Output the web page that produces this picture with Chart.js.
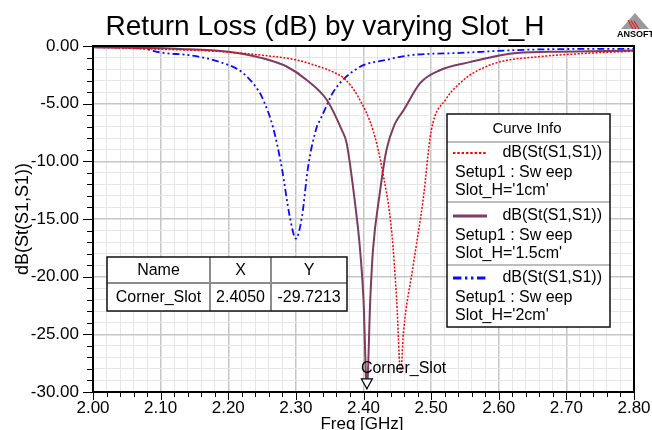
<!DOCTYPE html>
<html>
<head>
<meta charset="utf-8">
<script src="https://cdn.jsdelivr.net/npm/chart.js@4.4.1/dist/chart.umd.min.js"></script>
<style>
  html, body { margin: 0; padding: 0; background: #fff; }
  #wrap { width: 652px; height: 430px; }
</style>
</head>
<body>
<div id="wrap"><canvas id="rl"></canvas></div>
<script>
// Slot_H = 1cm (red, dotted)
const freq1 = [2.00, 2.08, 2.18, 2.25, 2.30, 2.335, 2.355, 2.373, 2.392, 2.414, 2.427, 2.442, 2.449, 2.455, 2.459, 2.473, 2.488, 2.50, 2.522, 2.545, 2.562, 2.60, 2.655, 2.74, 2.80];
const db1 = [-0.1, -0.25, -0.45, -0.8, -1.2, -1.8, -2.25, -2.9, -4.4, -7.3, -10.5, -16.3, -22.0, -28.4, -24.9, -19.2, -13.4, -7.4, -4.6, -3.1, -2.35, -1.4, -0.95, -0.6, -0.45];

// Slot_H = 1.5cm (purple, solid)
const freq2 = [2.00, 2.13, 2.20, 2.25, 2.287, 2.316, 2.346, 2.368, 2.375, 2.387, 2.395, 2.40, 2.405, 2.41, 2.414, 2.424, 2.434, 2.446, 2.459, 2.484, 2.513, 2.557, 2.627, 2.69, 2.80];
const db2 = [-0.1, -0.25, -0.5, -1.05, -1.8, -2.95, -4.7, -7.3, -8.4, -13.4, -17.7, -22.0, -29.72, -22.0, -17.7, -12.8, -9.0, -6.8, -5.6, -3.2, -2.1, -1.4, -0.6, -0.5, -0.4];

// Slot_H = 2cm (blue, dash-dot)
const freq3 = [2.00, 2.07, 2.104, 2.143, 2.188, 2.222, 2.247, 2.252, 2.266, 2.279, 2.291, 2.30, 2.309, 2.318, 2.331, 2.336, 2.348, 2.355, 2.392, 2.434, 2.469, 2.543, 2.627, 2.74, 2.80];
const db3 = [-0.1, -0.2, -0.6, -0.8, -1.4, -2.35, -4.1, -4.7, -7.0, -10.5, -14.8, -16.7, -14.8, -10.5, -7.0, -6.4, -4.85, -4.0, -1.9, -1.2, -0.8, -0.6, -0.35, -0.25, -0.25];

const curveNames = ["dB(St(S1,S1))", "dB(St(S1,S1))", "dB(St(S1,S1))"];
const curveSetup = ["Setup1 : Sw eep", "Setup1 : Sw eep", "Setup1 : Sw eep"];
const curveSlot = ["Slot_H='1cm'", "Slot_H='1.5cm'", "Slot_H='2cm'"];

const markerName = "Corner_Slot";
const markerX = 2.4050;
const markerY = -29.7213;

const FONT = '"Liberation Sans", Arial, sans-serif';
const RED = '#ff0000';
const PURPLE = '#7d3c60';
const BLUE = '#0a0aff';
const DASHES = [[2, 1.6], [], [7, 3, 2, 3, 2, 3]];

const toPoints = (xs, ys) => xs.map((x, i) => ({ x: x, y: ys[i] }));

const isMajorX = v => Math.round(v * 100) % 10 === 0;
const isMajorY = v => Math.round(v) % 5 === 0;

// titles, ticks, frame, marker table and curve info box
const decorations = {
  id: 'decorations',
  afterDraw(chart) {
    const ctx = chart.ctx;
    const a = chart.chartArea;
    const xs = chart.scales.x;
    const ys = chart.scales.y;
    ctx.save();

    // title
    ctx.fillStyle = '#000';
    ctx.font = '28px ' + FONT;
    ctx.textAlign = 'center';
    ctx.textBaseline = 'alphabetic';
    ctx.fillText('Return Loss (dB) by varying Slot_H', 325, 35);

    // ANSOFT logo
    ctx.beginPath();
    ctx.moveTo(635, 13); ctx.lineTo(649, 29); ctx.lineTo(621, 29); ctx.closePath();
    ctx.fillStyle = '#9a9a9a';
    ctx.fill();
    ctx.strokeStyle = '#e02020';
    ctx.lineWidth = 1.2;
    for (let k = 0; k < 3; k++) {
      ctx.beginPath();
      ctx.moveTo(628 + k * 3, 20 + k * 0.5);
      ctx.lineTo(633 + k * 3, 29);
      ctx.stroke();
    }
    ctx.fillStyle = '#000';
    ctx.font = 'bold 9px "Liberation Sans Narrow", ' + FONT;
    ctx.textAlign = 'left';
    ctx.fillText('ANSOFT', 617, 37);

    // axis titles
    ctx.font = '17px ' + FONT;
    ctx.textAlign = 'center';
    ctx.fillText('Freq [GHz]', 362, 429);
    ctx.save();
    ctx.translate(28, (a.top + a.bottom) / 2);
    ctx.rotate(-Math.PI / 2);
    ctx.font = '18px ' + FONT;
    ctx.fillText('dB(St(S1,S1))', 0, 0);
    ctx.restore();

    // tick marks
    ctx.strokeStyle = '#000';
    ctx.lineWidth = 1;
    ctx.beginPath();
    ys.ticks.forEach(t => {
      const py = Math.round(ys.getPixelForValue(t.value)) + 0.5;
      const len = isMajorY(t.value) ? 10 : 6;
      ctx.moveTo(a.left - len, py); ctx.lineTo(a.left, py);
    });
    xs.ticks.forEach(t => {
      const px = Math.round(xs.getPixelForValue(t.value)) + 0.5;
      const len = isMajorX(t.value) ? 8 : 5;
      ctx.moveTo(px, a.bottom); ctx.lineTo(px, a.bottom + len);
    });
    ctx.stroke();

    // plot frame
    ctx.lineWidth = 2;
    ctx.strokeRect(a.left, a.top, a.right - a.left, a.bottom - a.top);

    // marker on the 1.5cm curve
    const mx = xs.getPixelForValue(markerX);
    const my = ys.getPixelForValue(markerY);
    ctx.beginPath();
    ctx.moveTo(mx - 5.5, my - 10); ctx.lineTo(mx + 5.5, my - 10); ctx.lineTo(mx, my); ctx.closePath();
    ctx.fillStyle = '#fff';
    ctx.fill();
    ctx.lineWidth = 1.2;
    ctx.strokeStyle = '#000';
    ctx.stroke();
    ctx.fillStyle = '#000';
    ctx.font = '16px ' + FONT;
    ctx.textAlign = 'left';
    ctx.textBaseline = 'middle';
    ctx.fillText(markerName, mx - 6, my - 20);

    // marker table
    const tx = [107, 210, 271, 347];
    const ty = [257, 283, 311];
    ctx.fillStyle = '#fff';
    ctx.fillRect(tx[0], ty[0], tx[3] - tx[0], ty[2] - ty[0]);
    ctx.strokeStyle = '#8c8c8c';
    ctx.lineWidth = 2;
    ctx.beginPath();
    ctx.moveTo(tx[1], ty[0]); ctx.lineTo(tx[1], ty[2]);
    ctx.moveTo(tx[2], ty[0]); ctx.lineTo(tx[2], ty[2]);
    ctx.moveTo(tx[0], ty[1]); ctx.lineTo(tx[3], ty[1]);
    ctx.stroke();
    ctx.strokeStyle = '#111';
    ctx.lineWidth = 1.5;
    ctx.strokeRect(tx[0], ty[0], tx[3] - tx[0], ty[2] - ty[0]);
    ctx.fillStyle = '#000';
    ctx.textAlign = 'center';
    const head = ['Name', 'X', 'Y'];
    const row = [markerName, markerX.toFixed(4), markerY.toFixed(4)];
    for (let c = 0; c < 3; c++) {
      const cx = (tx[c] + tx[c + 1]) / 2;
      ctx.fillText(head[c], cx, (ty[0] + ty[1]) / 2 + 1);
      ctx.fillText(row[c], cx, (ty[1] + ty[2]) / 2 + 1);
    }

    // curve info box
    const L = 447, R = 610, T = 114, B = 327;
    ctx.fillStyle = '#fff';
    ctx.fillRect(L, T, R - L, B - T);
    ctx.fillStyle = '#000';
    ctx.font = '15px ' + FONT;
    ctx.textAlign = 'center';
    ctx.fillText('Curve Info', 527, 129);
    ctx.strokeStyle = '#bdbdbd';
    ctx.lineWidth = 2;
    ctx.beginPath();
    [142, 202, 265].forEach(y => { ctx.moveTo(L, y); ctx.lineTo(R, y); });
    ctx.stroke();
    const colors = [RED, PURPLE, BLUE];
    const widths = [2, 3, 3];
    const rows = [153, 216, 278];
    ctx.font = '16px ' + FONT;
    for (let i = 0; i < 3; i++) {
      const y0 = rows[i];
      ctx.strokeStyle = colors[i];
      ctx.lineWidth = widths[i];
      ctx.setLineDash(DASHES[i].length ? DASHES[i].map(d => d * 1.2) : []);
      ctx.beginPath();
      ctx.moveTo(453, y0); ctx.lineTo(487, y0);
      ctx.stroke();
      ctx.setLineDash([]);
      ctx.fillStyle = '#000';
      ctx.textAlign = 'right';
      ctx.fillText(curveNames[i], 602, y0);
      ctx.textAlign = 'left';
      ctx.fillText(curveSetup[i], 455, y0 + 20);
      ctx.fillText(curveSlot[i], 455, y0 + 38);
    }
    ctx.strokeStyle = '#111';
    ctx.lineWidth = 1.5;
    ctx.strokeRect(L, T, R - L, B - T);

    ctx.restore();
  }
};

new Chart(document.getElementById('rl'), {
  type: 'line',
  data: {
    datasets: [
      {
        label: curveSlot[0],
        data: toPoints(freq1, db1),
        borderColor: RED,
        borderWidth: 1.5,
        borderDash: DASHES[0],
        pointRadius: 0,
        cubicInterpolationMode: 'monotone'
      },
      {
        label: curveSlot[1],
        data: toPoints(freq2, db2),
        borderColor: PURPLE,
        borderWidth: 2,
        pointRadius: 0,
        cubicInterpolationMode: 'monotone'
      },
      {
        label: curveSlot[2],
        data: toPoints(freq3, db3),
        borderColor: BLUE,
        borderWidth: 1.8,
        borderDash: DASHES[2],
        pointRadius: 0,
        cubicInterpolationMode: 'monotone'
      }
    ]
  },
  options: {
    responsive: true,
    maintainAspectRatio: false,
    animation: false,
    layout: { padding: { top: 46, right: 18, left: 0, bottom: 0 } },
    scales: {
      x: {
        type: 'linear',
        min: 2.0,
        max: 2.8,
        afterFit: s => { s.height = 38; s.paddingLeft = 0; s.paddingRight = 0; },
        border: { display: false },
        grid: {
          drawTicks: false,
          color: c => isMajorX(c.tick.value) ? '#c6c6c6' : '#e6e6e6',
          lineWidth: c => isMajorX(c.tick.value) ? 1.5 : 1
        },
        ticks: {
          stepSize: 0.02,
          autoSkip: false,
          maxRotation: 0,
          padding: 6,
          color: '#000',
          font: { family: FONT, size: 17 },
          callback: v => isMajorX(v) ? v.toFixed(2) : ''
        }
      },
      y: {
        min: -30,
        max: 0,
        afterFit: s => { s.width = 93; s.paddingTop = 0; s.paddingBottom = 0; },
        border: { display: false },
        grid: {
          drawTicks: false,
          color: c => isMajorY(c.tick.value) ? '#c6c6c6' : '#e6e6e6',
          lineWidth: c => isMajorY(c.tick.value) ? 1.5 : 1
        },
        ticks: {
          stepSize: 1,
          autoSkip: false,
          padding: 14,
          color: '#000',
          font: { family: FONT, size: 17 },
          callback: v => isMajorY(v) ? v.toFixed(2) : ''
        }
      }
    },
    plugins: {
      legend: { display: false },
      tooltip: { enabled: false }
    }
  },
  plugins: [decorations]
});
</script>
</body>
</html>
